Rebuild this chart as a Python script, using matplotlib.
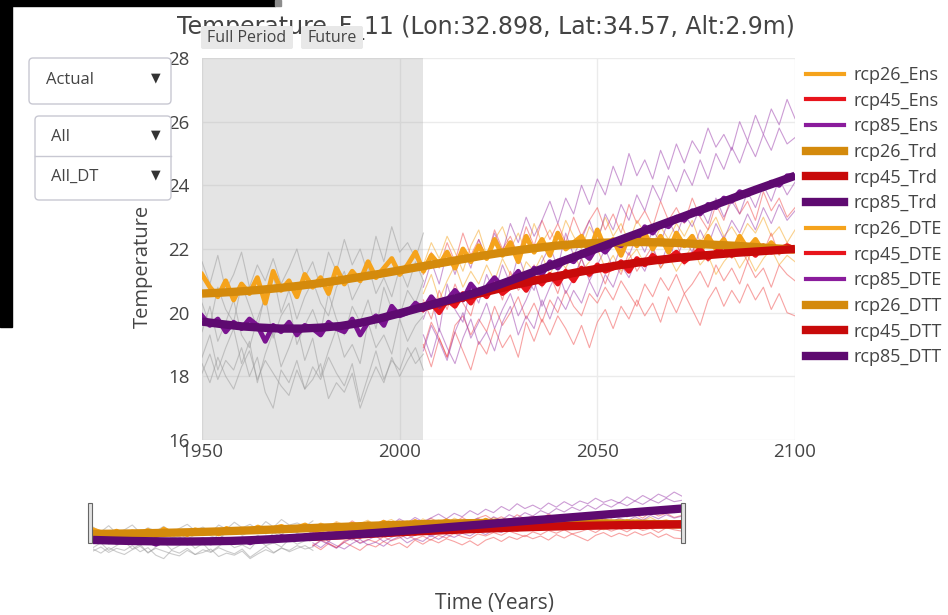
import numpy as np
import matplotlib.pyplot as plt
from matplotlib.lines import Line2D
from matplotlib.patches import Rectangle, FancyBboxPatch

plt.rcParams['font.family'] = ['Open Sans', 'DejaVu Sans']

W, H = 948, 615

# x values
hist_years = np.arange(1950, 2007, 2)        # 29 pts
fut_years = np.arange(2006, 2101, 2)         # 48 pts
all_years = np.arange(1950, 2101, 2)         # 76 pts
trend_years = np.arange(1950, 2101, 5)       # 31 pts
rcp45_trend_years = np.arange(2005, 2101, 5) # 20 pts

# historical ensemble members (grey)
hist_gray = [
    [21.6, 20.9, 21.8, 20.7, 21.2, 21.9, 20.8, 21.5, 21.0, 21.7, 20.9, 21.4, 22.0, 21.1, 21.6,
     20.8, 21.9, 21.3, 22.3, 21.5, 22.0, 21.2, 22.4, 21.6, 22.7, 21.9, 22.2, 21.7, 22.5],
    [20.3, 19.6, 20.8, 20.1, 19.7, 20.9, 20.2, 19.5, 20.6, 21.2, 20.0, 20.7, 19.8, 20.5, 21.0,
     20.3, 19.9, 20.8, 21.3, 20.4, 20.9, 21.5, 20.6, 21.1, 20.5, 21.4, 20.8, 21.6, 21.0],
    [19.4, 20.2, 19.1, 19.7, 20.4, 19.3, 18.9, 19.8, 20.5, 19.2, 19.9, 20.3, 19.0, 19.6, 20.1,
     19.4, 20.6, 19.8, 19.3, 20.2, 19.7, 20.4, 19.5, 20.8, 20.1, 19.9, 20.7, 20.3, 21.0],
    [18.6, 19.3, 18.2, 18.9, 19.5, 18.4, 19.1, 17.8, 18.7, 19.4, 18.3, 18.9, 19.6, 18.5, 19.2,
     18.0, 18.8, 19.5, 18.6, 19.0, 18.4, 19.7, 18.9, 19.3, 18.7, 19.8, 19.1, 19.6, 19.9],
    [18.1, 18.7, 17.9, 18.5, 18.2, 18.9, 18.0, 18.6, 17.5, 17.0, 18.2, 17.8, 18.5, 17.6, 18.3,
     17.9, 18.6, 18.1, 17.7, 18.4, 17.2, 18.0, 18.8, 17.9, 18.5, 18.2, 18.9, 18.4, 18.7],
    [18.4, 17.8, 18.6, 18.0, 17.6, 18.3, 18.8, 17.9, 18.5, 18.1, 17.7, 17.4, 18.2, 17.6, 17.9,
     18.4, 17.3, 17.8, 17.5, 18.1, 17.0, 17.7, 18.3, 17.8, 18.6, 18.0, 18.5, 18.9, 18.2],
]

# future ensemble members
rcp85_ens = [
    [20.8, 21.6, 20.9, 21.9, 21.2, 22.0, 21.4, 22.3,
     21.7, 22.5, 21.9, 22.8, 22.2, 23.0, 22.4, 22.9,
     23.5, 22.8, 23.6, 23.1, 24.0, 23.4, 24.2, 23.7,
     24.6, 24.0, 25.0, 24.3, 24.8, 24.2, 25.1, 24.5,
     25.3, 24.7, 25.4, 25.0, 25.8, 25.2, 25.6, 25.1,
     26.0, 25.4, 26.2, 25.6, 26.4, 25.9, 26.7, 26.1],
    [19.8, 20.5, 19.4, 20.9, 20.1, 19.7, 20.8, 20.3,
     21.2, 20.6, 21.5, 20.9, 21.8, 21.1, 20.7, 21.6,
     22.1, 21.4, 22.5, 21.8, 22.3, 22.9, 22.2, 23.1,
     22.6, 23.4, 22.9, 23.7, 23.2, 24.0, 23.5, 24.3,
     23.8, 24.5, 24.0, 24.8, 24.2, 25.0, 24.5, 25.2,
     24.7, 25.4, 24.9, 25.6, 25.1, 25.8, 25.3, 25.5],
    [18.8, 19.6, 19.1, 18.5, 19.4, 20.0, 19.2, 19.7,
     20.3, 19.5, 20.1, 20.6, 19.9, 20.4, 21.0, 20.2,
     20.8, 21.3, 20.6, 21.1, 21.7, 21.0, 21.5, 22.0,
     21.4, 22.1, 21.8, 22.4, 21.9, 22.6, 22.2, 22.9,
     22.4, 23.1, 22.7, 23.3, 22.8, 23.6, 23.0, 23.5,
     23.1, 23.8, 23.3, 24.0, 23.5, 24.2, 23.7, 24.1],
    [19.3, 18.6, 19.5, 18.9, 18.4, 19.2, 19.8, 19.0,
     19.4, 18.8, 19.7, 20.2, 19.3, 19.9, 19.5, 20.4,
     19.8, 20.5, 20.1, 20.7, 20.3, 21.0, 20.5, 21.2,
     20.8, 21.5, 21.1, 21.7, 21.3, 22.0, 21.5, 22.2,
     21.7, 22.3, 21.9, 22.6, 22.1, 22.8, 22.3, 22.9,
     22.5, 23.1, 22.6, 23.3, 22.8, 23.4, 22.9, 23.2],
]
rcp45_ens = [
    [21.2, 21.9, 21.4, 22.2, 21.6, 22.5, 21.8, 22.3,
     21.7, 22.6, 22.0, 22.4, 21.8, 22.7, 22.1, 22.9,
     22.3, 22.8, 22.2, 23.0, 22.4, 22.9, 23.3, 22.6,
     23.1, 22.5, 23.4, 22.8, 23.2, 22.7, 23.5, 22.9,
     23.3, 22.8, 23.6, 23.0, 22.6, 23.4, 22.9, 23.7,
     23.1, 23.5, 22.9, 23.8, 23.2, 23.6, 23.0, 23.3],
    [20.4, 19.8, 20.7, 20.1, 20.9, 20.3, 19.9, 20.8,
     20.5, 21.1, 20.4, 21.3, 20.7, 21.0, 21.5, 20.8,
     21.2, 20.6, 21.4, 21.0, 21.7, 21.1, 21.5, 20.9,
     21.6, 21.2, 21.9, 21.3, 21.7, 22.1, 21.4, 21.8,
     22.2, 21.5, 21.9, 22.3, 21.6, 22.0, 22.4, 21.7,
     22.1, 21.6, 22.3, 21.9, 22.5, 21.8, 22.2, 21.9],
    [19.0, 18.3, 19.2, 18.6, 19.4, 18.8, 18.2, 19.1,
     18.7, 19.5, 18.9, 19.3, 18.6, 19.7, 19.1, 19.8,
     19.3, 19.9, 19.5, 19.0, 19.6, 18.9, 19.7, 20.1,
     19.5, 20.2, 19.8, 20.4, 19.9, 20.3, 19.7, 20.5,
     20.0, 20.6, 20.1, 19.6, 20.4, 20.8, 20.2, 20.7,
     20.3, 20.9, 20.4, 20.8, 20.1, 20.6, 20.0, 19.9],
    [18.9, 19.7, 19.2, 18.6, 19.6, 19.9, 19.3, 19.8,
     19.4, 20.2, 19.6, 20.0, 20.5, 19.8, 20.3, 19.7,
     20.4, 20.0, 20.7, 20.2, 19.9, 20.6, 20.3, 20.8,
     20.4, 21.0, 20.6, 20.2, 20.9, 20.5, 21.1, 20.7,
     21.2, 20.6, 20.9, 21.3, 20.8, 21.5, 21.0, 21.4,
     20.9, 21.6, 21.1, 21.4, 20.8, 21.5, 21.2, 21.0],
]
rcp26_ens = [
    [21.5, 22.2, 21.7, 22.4, 21.9, 21.3, 22.1, 22.6,
     21.8, 22.3, 22.7, 22.0, 22.5, 21.9, 22.8, 22.2,
     22.6, 22.1, 22.9, 22.4, 22.0, 22.7, 22.3, 23.0,
     22.4, 22.8, 22.2, 22.9, 22.5, 22.1, 22.7, 22.3,
     22.8, 22.4, 22.9, 22.2, 22.6, 23.0, 22.4, 22.7,
     22.3, 22.8, 22.5, 23.0, 22.4, 22.7, 22.2, 22.6],
    [20.6, 21.2, 20.4, 21.0, 21.5, 20.8, 21.3, 20.9,
     21.5, 21.0, 21.7, 21.2, 20.9, 21.6, 21.3, 21.8,
     21.2, 21.7, 21.4, 21.9, 21.3, 21.6, 22.0, 21.4,
     21.8, 21.3, 21.7, 22.0, 21.5, 21.9, 21.4, 21.8,
     21.3, 21.7, 22.1, 21.5, 21.8, 21.2, 21.6, 21.9,
     21.4, 21.8, 21.3, 21.7, 22.0, 21.5, 21.8, 21.6],
]

# DTE (noisy, thick)
rcp26_dte = [21.2, 20.8, 20.5, 21.0, 20.4, 20.9, 20.6, 21.1,
             20.3, 21.3, 20.7, 21.0, 20.5, 21.2, 20.8, 21.1,
             20.6, 21.4, 20.9, 21.3, 21.0, 21.6, 21.1, 21.4,
             21.7, 21.2, 21.5, 21.9, 21.3, 21.8, 21.5, 21.9,
             21.4, 22.0, 21.6, 22.1, 21.7, 22.3, 21.8, 22.2,
             21.6, 22.4, 21.9, 22.3, 21.8, 22.5, 22.0, 22.2,
             22.4, 21.9, 22.6, 22.0, 22.3, 21.8, 22.4, 22.1,
             22.5, 22.0, 22.4, 21.9, 22.5, 22.1, 22.4, 21.9,
             22.4, 22.0, 22.3, 21.8, 22.4, 22.0, 22.3, 21.9,
             22.2, 21.9, 22.1, 22.0]
rcp85_dte = [19.9, 19.6, 19.8, 19.4, 19.7, 19.5, 19.8, 19.6,
             19.1, 19.6, 19.4, 19.7, 19.3, 19.6, 19.5, 19.3,
             19.7, 19.5, 19.4, 19.8, 19.3, 19.7, 19.9, 19.6,
             20.2, 19.9, 20.0, 20.3, 20.1, 20.5, 20.2, 20.4,
             20.7, 20.4, 20.9, 20.6, 20.8, 21.1, 20.8, 21.0,
             21.3, 20.9, 21.4, 21.2, 21.6, 21.4, 21.7, 21.6,
             21.9, 21.7, 22.1, 21.9, 22.2, 22.1, 22.4, 22.3,
             22.7, 22.5, 22.8, 22.7, 23.0, 22.9, 23.2, 23.1,
             23.4, 23.3, 23.6, 23.5, 23.8, 23.7, 23.9, 23.9,
             24.1, 24.0, 24.3, 24.3]
rcp45_dte = [20.1, 20.3, 20.0, 20.4, 20.2, 20.6, 20.3, 20.7,
             20.5, 20.9, 20.6, 20.8, 21.0, 20.7, 21.1, 20.9,
             21.2, 20.9, 21.3, 21.0, 21.4, 21.2, 21.5, 21.3,
             21.4, 21.6, 21.3, 21.7, 21.5, 21.8, 21.6, 21.7,
             21.9, 21.6, 21.8, 22.0, 21.7, 21.9, 22.1, 21.8,
             21.9, 22.0, 21.8, 22.1, 21.9, 22.0, 22.1, 22.0]

# trends (smooth, thick), every 5 years
rcp26_trd = [20.60, 20.63, 20.67, 20.72, 20.78, 20.85, 20.93, 21.02, 21.12, 21.22, 21.33,
             21.44, 21.55, 21.66, 21.77, 21.87, 21.96, 22.04, 22.11, 22.16, 22.19, 22.21,
             22.22, 22.21, 22.19, 22.16, 22.13, 22.10, 22.06, 22.02, 21.98]
rcp85_trd = [19.72, 19.64, 19.57, 19.53, 19.50, 19.50, 19.53, 19.58, 19.68, 19.82, 19.98,
             20.15, 20.32, 20.48, 20.66, 20.87, 21.10, 21.33, 21.56, 21.79, 22.02, 22.25,
             22.48, 22.71, 22.94, 23.17, 23.40, 23.63, 23.86, 24.08, 24.30]
rcp45_trd = [20.15, 20.30, 20.45, 20.60, 20.75, 20.90, 21.03, 21.15, 21.27, 21.38,
             21.48, 21.57, 21.65, 21.72, 21.78, 21.83, 21.88, 21.92, 21.96, 22.00]

c26, c45, c85 = '#f5a31c', '#e8141c', '#8a1c9c'
c26t, c45t, c85t = '#d48a0c', '#c80a0a', '#5e0a70'


def draw_series(a):
    for g in hist_gray:
        a.plot(hist_years, g, color='#999999', lw=0.8, alpha=0.5, zorder=2)
    for v in rcp26_ens:
        a.plot(fut_years, v, color=c26, lw=0.8, alpha=0.5, zorder=2)
    for v in rcp45_ens:
        a.plot(fut_years, v, color='#f04848', lw=0.8, alpha=0.5, zorder=2)
    for v in rcp85_ens:
        a.plot(fut_years, v, color='#9a3aaa', lw=0.8, alpha=0.5, zorder=2)
    a.plot(all_years, rcp26_dte, color=c26, lw=3.5, zorder=3)
    a.plot(fut_years, rcp45_dte, color=c45, lw=3.5, zorder=3)
    a.plot(all_years, rcp85_dte, color='#7a1490', lw=3.5, zorder=3)
    a.plot(trend_years, rcp26_trd, color=c26t, lw=6, zorder=4, solid_capstyle='butt')
    a.plot(rcp45_trend_years, rcp45_trd, color=c45t, lw=6, zorder=4, solid_capstyle='butt')
    a.plot(trend_years, rcp85_trd, color=c85t, lw=6, zorder=4, solid_capstyle='butt')


fig = plt.figure(figsize=(W / 100, H / 100), dpi=100)

# main axes
ax = fig.add_axes([202 / W, 1 - 440 / H, 593 / W, 382 / H])
draw_series(ax)
ax.axvspan(1950, 2006, color='#9a9a9a', alpha=0.26, lw=0, zorder=1)
ax.set_xlim(1950, 2100)
ax.set_ylim(16, 28)
ax.set_xticks([1950, 2000, 2050, 2100])
ax.set_yticks([16, 18, 20, 22, 24, 26, 28])
ax.grid(True, color='#ebebeb', lw=1)
ax.set_axisbelow(True)
for s in ax.spines.values():
    s.set_visible(False)
ax.tick_params(length=0, labelsize=13.5, labelcolor='#444')
ax.tick_params(axis='y', pad=9)
ax.tick_params(axis='x', pad=2)

leg_handles = [
    Line2D([], [], color=c26, lw=3), Line2D([], [], color=c45, lw=3), Line2D([], [], color=c85, lw=3),
    Line2D([], [], color=c26t, lw=6), Line2D([], [], color=c45t, lw=6), Line2D([], [], color=c85t, lw=6),
    Line2D([], [], color=c26, lw=3), Line2D([], [], color=c45, lw=3), Line2D([], [], color=c85, lw=3),
    Line2D([], [], color=c26t, lw=6), Line2D([], [], color=c45t, lw=6), Line2D([], [], color=c85t, lw=6),
]
leg_labels = ['rcp26_Ens', 'rcp45_Ens', 'rcp85_Ens', 'rcp26_Trd', 'rcp45_Trd', 'rcp85_Trd',
              'rcp26_DTE', 'rcp45_DTE', 'rcp85_DTE', 'rcp26_DTT', 'rcp45_DTT', 'rcp85_DTT']
ax.legend(leg_handles, leg_labels, loc='upper left', bbox_to_anchor=(806 / W, 1 - 66 / H),
          bbox_transform=fig.transFigure, frameon=False, fontsize=13, handlelength=2.1,
          handletextpad=0.55, labelspacing=0.425, borderpad=0, borderaxespad=0, labelcolor='#444')

# range slider
sl = fig.add_axes([93 / W, 1 - 560 / H, 589 / W, 70 / H])
draw_series(sl)
sl.set_xlim(1950, 2100)
sl.set_ylim(16.8, 27.0)
sl.axis('off')

# overlay for ui bits (pixel coords)
ov = fig.add_axes([0, 0, 1, 1], zorder=5)
ov.set_xlim(0, W)
ov.set_ylim(H, 0)
ov.axis('off')

ov.add_patch(Rectangle((0, 0), 275, 6, color='black', zorder=6))
ov.add_patch(Rectangle((275, 0), 6, 6, color='#8c8c8c', zorder=6))
ov.add_patch(Rectangle((0, 0), 12, 327, color='black', zorder=6))

ov.text(486, 27, 'Temperature_F_11 (Lon:32.898, Lat:34.57, Alt:2.9m)', ha='center', va='center',
        fontsize=17, color='#444', family='DejaVu Sans', zorder=1)
for x0, w, lab in [(201, 92, 'Full Period'), (301, 62, 'Future')]:
    ov.add_patch(FancyBboxPatch((x0, 26), w, 23, boxstyle='round,pad=0,rounding_size=2',
                                fc='#e8e8e8', ec='none', zorder=3))
    ov.text(x0 + w / 2, 38, lab, ha='center', va='center', fontsize=11.5, color='#444', zorder=4)

# dropdowns
ov.add_patch(FancyBboxPatch((29, 58), 142, 46, boxstyle='round,pad=0,rounding_size=4',
                            fc='white', ec='#c8c8d2', lw=1, zorder=3))
ov.text(46, 80, 'Actual', va='center', fontsize=12, color='#444', zorder=4)
ov.text(156, 78, '▼', ha='center', va='center', fontsize=9, color='#333', zorder=4)
ov.add_patch(FancyBboxPatch((35, 116), 136, 84, boxstyle='round,pad=0,rounding_size=4',
                            fc='white', ec='#c8c8d2', lw=1, zorder=3))
ov.plot([35, 171], [156, 156], color='#c8c8d2', lw=1, zorder=4)
ov.text(51, 137, 'All', va='center', fontsize=12, color='#444', zorder=4)
ov.text(156, 135, '▼', ha='center', va='center', fontsize=9, color='#333', zorder=4)
ov.text(51, 177, 'All_DT', va='center', fontsize=12, color='#444', zorder=4)
ov.text(156, 175, '▼', ha='center', va='center', fontsize=9, color='#333', zorder=4)

# slider grips
for gx in (88, 681):
    ov.add_patch(Rectangle((gx, 503), 4, 40, fc='#e2e2e2', ec='#666', lw=0.8, zorder=3))

ov.text(143, 266, 'Temperature', rotation=90, ha='center', va='center', fontsize=14.5, color='#444')
ov.text(495, 604, 'Time (Years)', ha='center', va='center', fontsize=15, color='#444')

fig.savefig('out.png', dpi=100)
